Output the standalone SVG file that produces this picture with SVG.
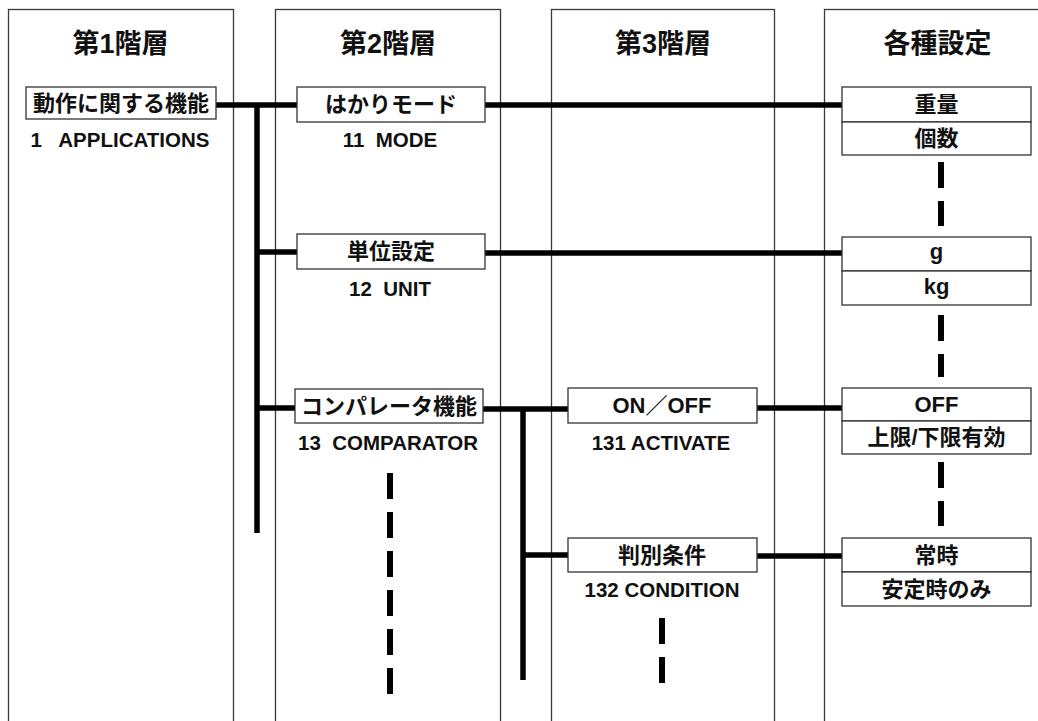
<svg xmlns="http://www.w3.org/2000/svg" width="1038" height="721" viewBox="0 0 1038 721">
<style>
.col{fill:#fff;stroke:#3a3a3a;stroke-width:1.3}
.box{fill:#fff;stroke:#333;stroke-width:1.3}
.hd{font-family:"Liberation Sans","Noto Sans CJK JP",sans-serif;font-weight:bold;font-size:27px;text-anchor:middle;fill:#111}
.t{font-family:"Liberation Sans","Noto Sans CJK JP",sans-serif;font-weight:bold;font-size:22px;text-anchor:middle;fill:#111}
.lb{font-family:"Liberation Sans","Noto Sans CJK JP",sans-serif;font-weight:bold;font-size:20.5px;text-anchor:middle;fill:#111}
.ln{stroke:#000;stroke-width:5.5;fill:none}
.ds{stroke:#000;stroke-width:6;fill:none;stroke-dasharray:26 13}
</style>
<rect width="1038" height="721" fill="#fff"/>
<g id="columns">
<rect class="col" x="8.5" y="9.5" width="225" height="730"/>
<rect class="col" x="275.5" y="9.5" width="225" height="730"/>
<rect class="col" x="551.5" y="9.5" width="223" height="730"/>
<rect class="col" x="824.5" y="9.5" width="225" height="730"/>
<text class="hd" x="120.5" y="53">第1階層</text>
<text class="hd" x="388" y="53">第2階層</text>
<text class="hd" x="663" y="53">第3階層</text>
<text class="hd" x="937.5" y="53">各種設定</text>
</g>
<g id="connectors">
<line class="ln" x1="216" y1="105" x2="297" y2="105"/>
<line class="ln" x1="257" y1="105" x2="257" y2="533"/>
<line class="ln" x1="257" y1="252" x2="297" y2="252"/>
<line class="ln" x1="257" y1="408" x2="295" y2="408"/>
<line class="ln" x1="485" y1="105" x2="842" y2="105"/>
<line class="ln" x1="485" y1="253" x2="842" y2="253"/>
<line class="ln" x1="483" y1="409" x2="568" y2="409"/>
<line class="ln" x1="523" y1="409" x2="523" y2="680"/>
<line class="ln" x1="523" y1="555" x2="568" y2="555"/>
<line class="ln" x1="757" y1="408" x2="842" y2="408"/>
<line class="ln" x1="757" y1="556" x2="842" y2="556"/>
<line class="ds" x1="390" y1="473" x2="390" y2="694"/>
<line class="ds" x1="662" y1="618" x2="662" y2="683"/>
<line class="ds" x1="941" y1="162" x2="941" y2="226"/>
<line class="ds" x1="941" y1="315" x2="941" y2="377"/>
<line class="ds" x1="941" y1="462" x2="941" y2="526"/>
</g>
<g id="n1">
<rect class="box" x="26" y="87" width="190" height="32"/>
<text class="t" x="121" y="111">動作に関する機能</text>
<text class="lb" x="120" y="147" xml:space="preserve">1   APPLICATIONS</text>
</g>
<g id="n11">
<rect class="box" x="297" y="87" width="188" height="35"/>
<text class="t" x="391" y="112">はかりモード</text>
<text class="lb" x="390" y="147" xml:space="preserve">11  MODE</text>
</g>
<g id="n12">
<rect class="box" x="297" y="234" width="188" height="35"/>
<text class="t" x="391" y="259">単位設定</text>
<text class="lb" x="390" y="296" xml:space="preserve">12  UNIT</text>
</g>
<g id="n13">
<rect class="box" x="295" y="389" width="188" height="34"/>
<text class="t" x="389" y="414">コンパレータ機能</text>
<text class="lb" x="388" y="450" xml:space="preserve">13  COMPARATOR</text>
</g>
<g id="n131">
<rect class="box" x="568" y="388" width="189" height="35"/>
<text class="t" x="662" y="413">ON／OFF</text>
<text class="lb" x="661" y="450">131 ACTIVATE</text>
</g>
<g id="n132">
<rect class="box" x="568" y="538" width="189" height="34"/>
<text class="t" x="662" y="563">判別条件</text>
<text class="lb" x="662" y="597">132 CONDITION</text>
</g>
<g id="s11">
<rect class="box" x="842" y="87" width="189" height="35"/>
<rect class="box" x="842" y="122" width="189" height="33"/>
<text class="t" x="936.5" y="112">重量</text>
<text class="t" x="936.5" y="146">個数</text>
</g>
<g id="s12">
<rect class="box" x="842" y="237" width="189" height="34"/>
<rect class="box" x="842" y="271" width="189" height="34"/>
<text class="t" x="936.5" y="259">g</text>
<text class="t" x="936.5" y="294">kg</text>
</g>
<g id="s131">
<rect class="box" x="842" y="388" width="189" height="33"/>
<rect class="box" x="842" y="421" width="189" height="33"/>
<text class="t" x="936.5" y="412">OFF</text>
<text class="t" x="936.5" y="445">上限/下限有効</text>
</g>
<g id="s132">
<rect class="box" x="842" y="538" width="189" height="34"/>
<rect class="box" x="842" y="572" width="189" height="34"/>
<text class="t" x="936.5" y="563">常時</text>
<text class="t" x="936.5" y="597">安定時のみ</text>
</g>
</svg>
